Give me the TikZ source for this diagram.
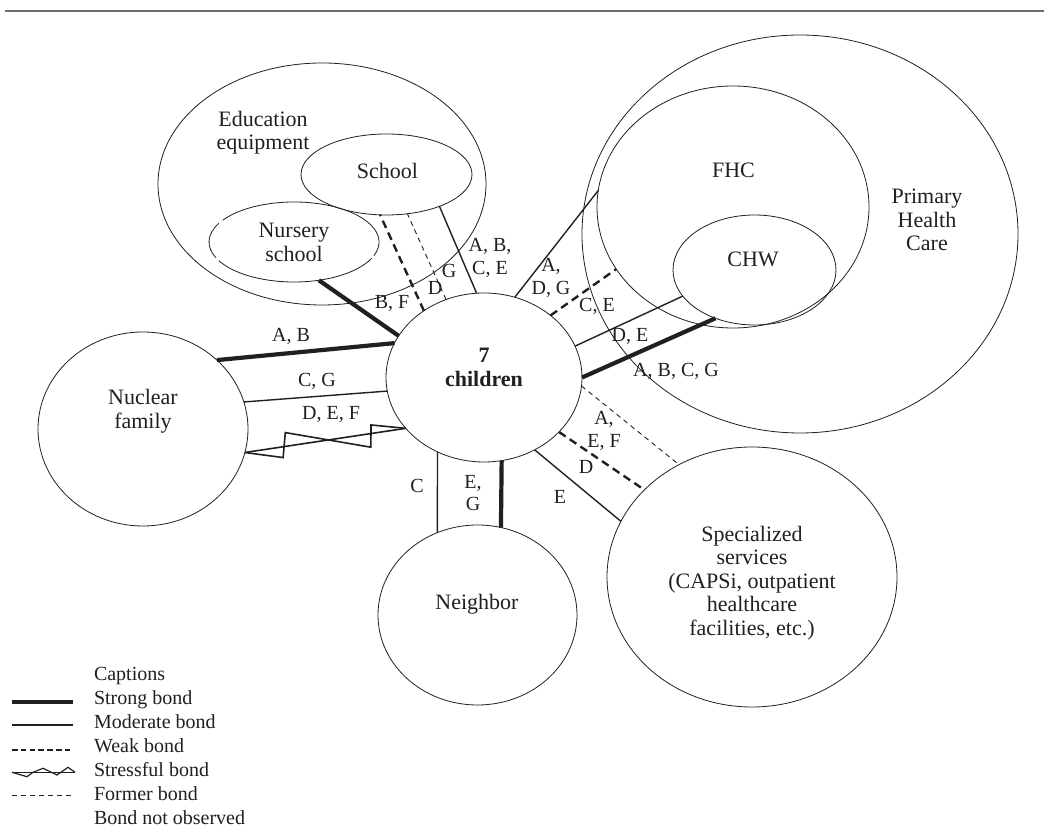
\documentclass[tikz,border=0pt]{standalone}
\usepackage{fontspec}
\setmainfont{Liberation Serif}
\usetikzlibrary{shapes.geometric,calc}

\tikzset{
  ring/.style={ellipse,draw=drawColor,line width=0.8pt,inner sep=0pt,outer sep=0pt},
  placetxt/.style={text=drawColor,align=center,inner sep=0pt,outer sep=0pt,font=\fontsize{22}{23.5}\selectfont},
  lbl/.style={text=drawColor,align=center,inner sep=0pt,outer sep=0pt,font=\fontsize{20}{22.5}\selectfont},
  keytxt/.style={text=drawColor,anchor=base west,inner sep=0pt,outer sep=0pt,font=\fontsize{20}{24}\selectfont},
  strongbond/.style={draw=drawColor,line width=4.2pt},
  modbond/.style={draw=drawColor,line width=1.4pt},
  weakbond/.style={draw=drawColor,line width=2.4pt,dash pattern=on 8pt off 5pt},
  formerbond/.style={draw=drawColor,line width=0.9pt,dash pattern=on 5pt off 4pt},
  stressbond/.style={draw=drawColor,line width=1.6pt,line join=miter}
}

\begin{document}
\begin{tikzpicture}[x=1pt,y=1pt]
\definecolor{drawColor}{RGB}{35,31,32}
\definecolor{ruleColor}{RGB}{110,110,110}
\path[use as bounding box,fill=white] (0,0) rectangle (1044,835);

\draw[ruleColor,line width=1.5pt] (5,824) -- (1044,824);

\node[ring,minimum width=328pt,minimum height=242pt] (edu) at (322,651) {};

\node[ring,minimum width=171pt,minimum height=81pt] (school) at (386.5,660.5) {};

\node[ellipse,inner sep=0pt,outer sep=0pt,minimum width=170pt,minimum height=80pt] (nursery) at (294,593) {};
\draw[drawColor,line width=0.8pt] ([shift={(-20:85pt and 40pt)}]nursery.center) arc[start angle=-20,end angle=147,x radius=85pt,y radius=40pt];
\draw[drawColor,line width=0.8pt] ([shift={(152:85pt and 40pt)}]nursery.center) arc[start angle=152,end angle=203,x radius=85pt,y radius=40pt];
\draw[drawColor,line width=0.8pt] ([shift={(208:85pt and 40pt)}]nursery.center) arc[start angle=208,end angle=336,x radius=85pt,y radius=40pt];

\node[ring,minimum width=436pt,minimum height=398pt] (phc) at (800,601) {};

\node[ring,minimum width=272pt,minimum height=242pt] (fhc) at (733,628) {};

\node[ring,minimum width=163pt,minimum height=110pt] (chw) at (754.5,565) {};

\node[ring,minimum width=196pt,minimum height=169pt] (kids) at (484,457.5) {};

\node[ring,minimum width=210pt,minimum height=194pt] (nuclear) at (143,406) {};

\node[ring,minimum width=199pt,minimum height=180pt] (neighbor) at (477.5,220) {};

\node[ring,minimum width=290pt,minimum height=260pt] (special) at (752,258) {};

\node[placetxt] (tEdu) at (263,702.5) {Education\\equipment};
\node[placetxt] (tSchool) at (387.5,664) {School};
\node[placetxt] (tNursery) at (294,592.5) {Nursery\\school};
\node[placetxt] (tFhc) at (733.5,664.5) {FHC};
\node[placetxt] (tChw) at (753,576) {CHW};
\node[placetxt] (tPhc) at (927,615) {Primary\\Health\\Care};
\node[placetxt,font=\fontsize{22}{24}\selectfont\bfseries] (tKids) at (484,468) {7\\children};
\node[placetxt] (tNuclear) at (143,424) {Nuclear\\family};
\node[placetxt] (tNeighbor) at (477,231) {Neighbor};
\node[placetxt] (tSpecial) at (752,252) {Specialized\\services\\(CAPSi, outpatient\\healthcare\\facilities, etc.)};

\draw[strongbond] (kids.154) -- (nursery.-57);
\draw[weakbond] (kids.132) -- (school.-99);
\draw[formerbond] (kids.116) -- (school.-62);
\draw[modbond] (kids.95) -- (school.-31);

\draw[modbond] (kids.69) -- (fhc.173);
\draw[weakbond] (kids.43.4) -- (fhc.-152);
\draw[modbond] (kids.19.5) -- (chw.-160.3);
\draw[strongbond] (kids.0.3) -- (chw.-129.5);

\draw[formerbond] (kids.-5.7) -- (special.123.3);
\draw[weakbond] (kids.-36.1) -- (special.141.4);
\draw[modbond] (kids.-55.2) -- (special.157.4);

\draw[modbond] (kids.-122.4) -- (neighbor.116.8);
\draw[strongbond] (kids.-78.8) -- (neighbor.75);

\draw[strongbond] (nuclear.43.4) -- (kids.159);
\draw[modbond] (nuclear.15.9) -- (kids.-172.1);
\draw[stressbond] (nuclear.-13.5) coordinate (s1) -- (kids.-147.4) coordinate (s2);
\draw[stressbond] (s1) -- ($(s1)!0.228!(s2)!10.7pt!-90:(s2)$) -- ($(s1)!0.264!(s2)!13.7pt!90:(s2)$) -- ($(s1)!0.771!(s2)!13.5pt!-90:(s2)$) -- ($(s1)!0.792!(s2)!8.5pt!90:(s2)$) -- (s2);

\node[lbl] (lBF) at (392,532) {B, F};
\node[lbl] (lD) at (435,547) {D};
\node[lbl] (lG) at (449,564) {G};
\node[lbl] (lABCE) at (490,577) {A, B,\\C, E};
\node[lbl] (lADG) at (551,557) {A,\\D, G};
\node[lbl] (lCE) at (597,529) {C, E};
\node[lbl] (lDE) at (630,499) {D, E};
\node[lbl] (lABCG) at (676,463.5) {A, B, C, G};
\node[lbl] (lAEF) at (604,404) {A,\\E, F};
\node[lbl] (lDs) at (586,368) {D};
\node[lbl] (lE) at (560,338) {E};
\node[lbl] (lC) at (417,349) {C};
\node[lbl] (lEG) at (473,342) {E,\\G};
\node[lbl] (lAB) at (291,499) {A, B};
\node[lbl] (lCG) at (317,454) {C, G};
\node[lbl] (lDEF) at (331,421) {D, E, F};

\node[keytxt] (kCap) at (94,154) {Captions};
\draw[strongbond] (12,133) -- (73,133);
\node[keytxt] (kStrong) at (94,130) {Strong bond};
\draw[modbond] (12,110) -- (73,110);
\node[keytxt] (kMod) at (94,106) {Moderate bond};
\draw[weakbond,line width=1.8pt,dash pattern=on 5.5pt off 3.3pt] (12,85) -- (73,85);
\node[keytxt] (kWeak) at (94,82) {Weak bond};
\draw[stressbond,line width=1.4pt] (12,62.7) -- (75,62.7);
\draw[stressbond,line width=1.2pt] (12,62.7) -- (27,58.3) -- (33,62.7) -- (43,66.7) -- (57,60) -- (68,67.7) -- (75,62.7);
\node[keytxt] (kStress) at (94,58) {Stressful bond};
\draw[formerbond] (12,40) -- (73,40);
\node[keytxt] (kFormer) at (94,34) {Former bond};
\node[keytxt] (kNone) at (94,10) {Bond not observed};
\end{tikzpicture}
\end{document}
